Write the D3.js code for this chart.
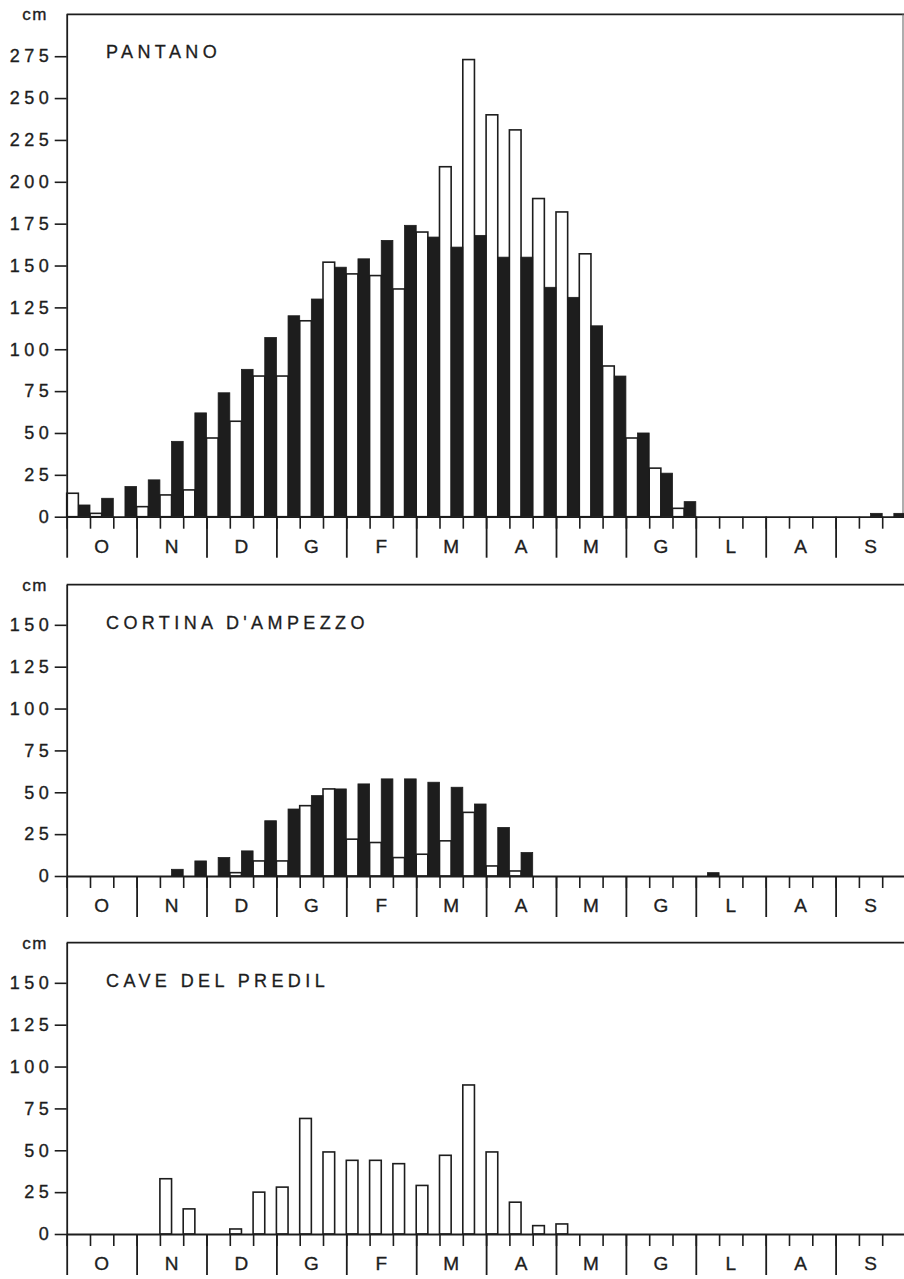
<!DOCTYPE html>
<html>
<head>
<meta charset="utf-8">
<title>Neve al suolo</title>
<script src="https://d3js.org/d3.v7.min.js"></script>
<style>
    body { margin: 0; background: #fff; }
    svg { display: block; font-family: "Liberation Sans", Arial, sans-serif; }
</style>
</head>
<body>
<script type="text/javascript">
    // mesi da ottobre a settembre, tre decadi ciascuno
    const months = ['O', 'N', 'D', 'G', 'F', 'M', 'A', 'M', 'G', 'L', 'A', 'S'];

    // cm per decade (36 valori), barra bianca = prima serie, barra nera = seconda serie
    const pantanoWhite = [14, 2, 0, 6, 13, 16, 47, 57, 84, 84, 117, 152, 145, 144, 136, 170, 209, 273,
        240, 231, 190, 182, 157, 90, 47, 29, 5, 0, 0, 0, 0, 0, 0, 0, 0, 0];
    const pantanoBlack = [7, 11, 18, 22, 45, 62, 74, 88, 107, 120, 130, 149, 154, 165, 174, 167, 161, 168,
        155, 155, 137, 131, 114, 84, 50, 26, 9, 0, 0, 0, 0, 0, 0, 0, 2, 2];

    const cortinaWhite = [0, 0, 0, 0, 0, 0, 0, 2, 9, 9, 42, 52, 22, 20, 11, 13, 21, 38,
        6, 3, 0, 0, 0, 0, 0, 0, 0, 0, 0, 0, 0, 0, 0, 0, 0, 0];
    const cortinaBlack = [0, 0, 0, 0, 4, 9, 11, 15, 33, 40, 48, 52, 55, 58, 58, 56, 53, 43,
        29, 14, 0, 0, 0, 0, 0, 0, 0, 2, 0, 0, 0, 0, 0, 0, 0, 0];

    const predilWhite = [0, 0, 0, 0, 33, 15, 0, 3, 25, 28, 69, 49, 44, 44, 42, 29, 47, 89,
        49, 19, 5, 6, 0, 0, 0, 0, 0, 0, 0, 0, 0, 0, 0, 0, 0, 0];

    const ticksPantano = [0, 25, 50, 75, 100, 125, 150, 175, 200, 225, 250, 275];
    const ticksSmall = [0, 25, 50, 75, 100, 125, 150];

    const panels = [
        {name: 'PANTANO', white: pantanoWhite, black: pantanoBlack, ticks: ticksPantano, yMax: 300, base: 516.7, border: true},
        {name: "CORTINA D'AMPEZZO", white: cortinaWhite, black: cortinaBlack, ticks: ticksSmall, yMax: 174, base: 876},
        {name: 'CAVE DEL PREDIL', white: predilWhite, black: null, ticks: ticksSmall, yMax: 174, base: 1234}
    ];

    const w = 904;
    const h = 1279;
    const ink = '#1d1d1d';

    const svg = d3.select('body').append('svg').attr('width', w).attr('height', h);

    const xLeft = 66.7;
    const xRight = 905.5;
    const pxPerCm = 1.6745;

    const x = d3.scaleBand().domain(d3.range(36)).range([xLeft, xRight]);
    const half = d3.scaleBand().domain(['white', 'black']).range([0, x.bandwidth()]);
    const xDek = d3.scaleLinear().domain([0, 36]).range([xLeft, xRight]);
    const xMonth = d3.scaleBand().domain(d3.range(12)).range([xLeft, xRight]);

    panels.forEach(p => {
        const y = d3.scaleLinear()
            .domain([0, p.yMax])
            .range([p.base, p.base - p.yMax * pxPerCm]);
        const top = y(p.yMax);
        const g = svg.append('g');

        // cornice superiore
        g.append('line')
            .attr('x1', xLeft).attr('x2', w)
            .attr('y1', top).attr('y2', top)
            .attr('stroke', ink).attr('stroke-width', 1.8);

        if (p.border) {
            g.append('line')
                .attr('x1', 903).attr('x2', 903)
                .attr('y1', top).attr('y2', p.base)
                .attr('stroke', '#777').attr('stroke-width', 1.2);
        }

        // barre bianche
        g.selectAll('rect.white')
            .data(p.white.map((v, i) => ({v, i})).filter(d => d.v > 0))
            .enter()
            .append('rect')
            .attr('class', 'white')
            .attr('x', d => x(d.i) + half('white'))
            .attr('y', d => y(d.v))
            .attr('width', half.bandwidth())
            .attr('height', d => p.base - y(d.v))
            .attr('fill', '#fff')
            .attr('stroke', ink)
            .attr('stroke-width', 1.6);

        // barre nere
        if (p.black) {
            g.selectAll('rect.black')
                .data(p.black.map((v, i) => ({v, i})).filter(d => d.v > 0))
                .enter()
                .append('rect')
                .attr('class', 'black')
                .attr('x', d => x(d.i) + half('black'))
                .attr('y', d => y(d.v))
                .attr('width', half.bandwidth())
                .attr('height', d => p.base - y(d.v))
                .attr('fill', ink)
                .attr('stroke', ink)
                .attr('stroke-width', 0.8);
        }

        // asse y
        const yAxis = g.append('g')
            .attr('transform', `translate(${xLeft},0)`)
            .call(d3.axisLeft(y).tickValues(p.ticks).tickSize(12).tickSizeOuter(0).tickPadding(1.5));
        yAxis.select('.domain').attr('stroke', ink).attr('stroke-width', 1.8)
            .attr('d', `M0.5,${top}V${p.base}`);
        yAxis.selectAll('.tick line').attr('stroke', ink).attr('stroke-width', 1.6);
        yAxis.selectAll('.tick text')
            .attr('fill', ink)
            .attr('stroke', ink)
            .attr('stroke-width', 0.35)
            .attr('font-size', 18)
            .attr('letter-spacing', 4.5);

        g.append('text')
            .attr('x', 48)
            .attr('y', top + 6)
            .attr('text-anchor', 'end')
            .attr('font-size', 17)
            .attr('letter-spacing', 1.5)
            .attr('fill', ink)
            .attr('stroke', ink)
            .attr('stroke-width', 0.35)
            .text('cm');

        // decadi
        const dekAxis = g.append('g')
            .attr('transform', `translate(0,${p.base})`)
            .call(d3.axisBottom(xDek).tickValues(d3.range(37)).tickSize(12).tickSizeOuter(0).tickFormat(''));
        dekAxis.select('.domain').attr('stroke', ink).attr('stroke-width', 1.8)
            .attr('d', `M${xLeft},0.5H${xRight}`);
        dekAxis.selectAll('.tick line').attr('stroke', ink).attr('stroke-width', 1.6);

        // limiti dei mesi
        const monthAxis = g.append('g')
            .attr('transform', `translate(0,${p.base})`)
            .call(d3.axisBottom(xDek).tickValues(d3.range(0, 37, 3)).tickSize(41).tickFormat(''));
        monthAxis.select('.domain').remove();
        monthAxis.selectAll('.tick line').attr('stroke', ink).attr('stroke-width', 1.8);

        // etichette dei mesi
        const labelAxis = g.append('g')
            .attr('transform', `translate(0,${p.base})`)
            .call(d3.axisBottom(xMonth).tickSize(0).tickPadding(23).tickFormat(i => months[i]));
        labelAxis.select('.domain').remove();
        labelAxis.selectAll('.tick text')
            .attr('fill', ink)
            .attr('stroke', ink)
            .attr('stroke-width', 0.35)
            .attr('font-size', 19);

        // nome della stazione
        g.append('text')
            .attr('x', 106)
            .attr('y', top + 44)
            .attr('font-size', 18)
            .attr('letter-spacing', 4.4)
            .attr('fill', ink)
            .attr('stroke', ink)
            .attr('stroke-width', 0.3)
            .text(p.name);
    });
</script>
</body>
</html>
